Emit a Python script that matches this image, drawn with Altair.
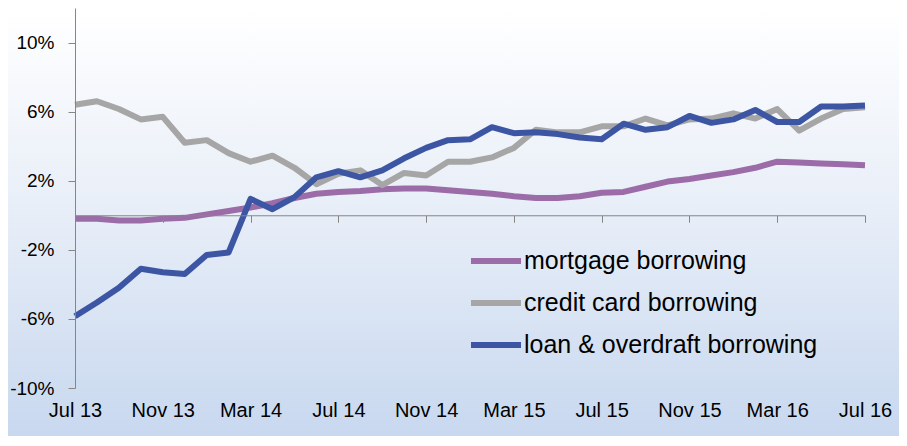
import altair as alt
import pandas as pd

# ---- data (annual growth, %) ----
tick_labels = ["Jul 13", "Nov 13", "Mar 14", "Jul 14", "Nov 14",
               "Mar 15", "Jul 15", "Nov 15", "Mar 16", "Jul 16"]
months = list(range(37))  # Jul 2013 ... Jul 2016, monthly

mortgage = [-0.2, -0.2, -0.3, -0.3, -0.2, -0.15, 0.05, 0.25, 0.45, 0.7,
            1.0, 1.25, 1.35, 1.4, 1.5, 1.55, 1.55, 1.45, 1.35, 1.25,
            1.1, 1.0, 1.0, 1.1, 1.3, 1.35, 1.65, 1.95, 2.1, 2.3,
            2.5, 2.75, 3.1, 3.05, 3.0, 2.95, 2.9]
credit_card = [6.4, 6.6, 6.15, 5.55, 5.7, 4.2, 4.35, 3.6, 3.1, 3.45,
               2.75, 1.8, 2.4, 2.6, 1.75, 2.45, 2.3, 3.1, 3.1, 3.35,
               3.9, 4.95, 4.8, 4.8, 5.15, 5.15, 5.6, 5.2, 5.55, 5.6,
               5.9, 5.6, 6.15, 4.9, 5.6, 6.15, 6.25]
loan_overdraft = [-5.85, -5.05, -4.2, -3.1, -3.3, -3.4, -2.3, -2.15, 0.95, 0.35,
                  1.05, 2.2, 2.55, 2.2, 2.6, 3.3, 3.9, 4.35, 4.4, 5.1,
                  4.75, 4.8, 4.7, 4.5, 4.4, 5.3, 4.95, 5.1, 5.75, 5.35,
                  5.55, 6.1, 5.4, 5.4, 6.3, 6.3, 6.35]

series_names = ["mortgage borrowing", "credit card borrowing", "loan & overdraft borrowing"]
series_colors = ["#9B6CA8", "#A6A6A6", "#3D56A4"]
y_ticks = [-10, -6, -2, 2, 6, 10]
y_domain = [-10, 12]

rows = []
for name, vals in zip(series_names, [mortgage, credit_card, loan_overdraft]):
    for m, v in zip(months, vals):
        rows.append({"m": m, "v": v, "series": name})
df = pd.DataFrame(rows)
df["order"] = df["series"].map({n: i for i, n in enumerate(series_names)})

W, H = 790, 380
label_expr = "[" + ",".join("'%s'" % t for t in tick_labels) + "][round(datum.value / 4)]"
zero_offset = -(H * (0 - y_domain[0]) / (y_domain[1] - y_domain[0]))

font = "Liberation Sans"
x_scale = alt.Scale(domain=[0, 36], nice=False, zero=False)
y_scale = alt.Scale(domain=y_domain, nice=False)
y_enc = alt.Y("v:Q", scale=y_scale, title=None,
              axis=alt.Axis(values=y_ticks, labelExpr="datum.value + '%'",
                            grid=False, domainColor="#868686", tickColor="#868686",
                            tickSize=7, labelPadding=14, labelFontSize=19,
                            labelFont=font, labelColor="#000000", zindex=1))

background = alt.Chart(alt.Data(values=[{"a": 1}])).mark_rect(
    clip=False,
    color=alt.LinearGradient(gradient="linear", x1=0, x2=0, y1=0, y2=1,
                             stops=[alt.GradientStop(color="#ffffff", offset=0),
                                    alt.GradientStop(color="#e9eff8", offset=0.45),
                                    alt.GradientStop(color="#c8d8ef", offset=1)])
).encode(x=alt.value(-67), x2=alt.value(W + 34), y=alt.value(0), y2=alt.value(H + 48))

lines = alt.Chart(df).mark_line(strokeWidth=6, strokeJoin="round").encode(
    x=alt.X("m:Q", scale=x_scale, title=None,
            axis=alt.Axis(orient="bottom", values=list(range(0, 37, 4)), labelExpr=label_expr,
                          domain=False, ticks=False, grid=False, labelPadding=12,
                          labelFontSize=20, labelFont=font, labelColor="#000000",
                          labelFlush=False, labelBound=False, labelOverlap=False, zindex=1)),
    y=y_enc,
    color=alt.Color("series:N", sort=series_names,
                    scale=alt.Scale(domain=series_names, range=series_colors),
                    legend=alt.Legend(title=None, orient="none", legendX=393, legendY=225,
                                      symbolType="stroke", symbolSize=2500,
                                      symbolStrokeWidth=6, labelFontSize=25,
                                      labelFont=font, labelColor="#000000",
                                      labelOffset=0, rowPadding=1, labelLimit=400)),
    order=alt.Order("order:Q"),
)

zero_axis = alt.Chart(df).mark_point(opacity=0).encode(
    x=alt.X("m:Q", scale=x_scale, title=None,
            axis=alt.Axis(orient="bottom", values=list(range(0, 37, 4)), labels=False,
                          offset=zero_offset, domain=True, ticks=True, tickSize=7,
                          domainColor="#868686", tickColor="#868686", grid=False, zindex=1)),
    y=y_enc,
)

chart = alt.layer(background, lines, zero_axis).resolve_axis(x="independent").properties(
    width=W, height=H,
    autosize=alt.AutoSizeParams(type="none"),
    padding={"left": 67, "top": 0, "right": 34, "bottom": 48},
).configure_view(stroke=None).configure(background="white")

chart.save("out.html", embed_options={"renderer": "svg", "actions": False})
